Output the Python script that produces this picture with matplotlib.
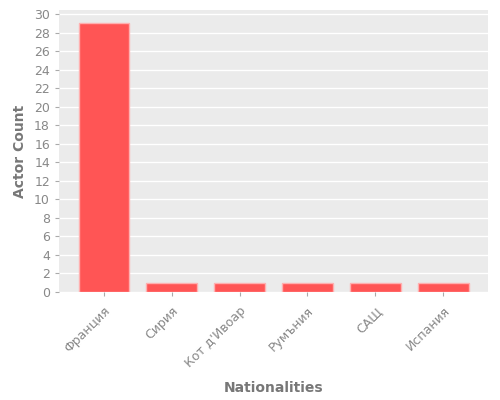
import matplotlib
matplotlib.use("Agg")
import matplotlib.pyplot as plt

categories = ["Франция", "Сирия", "Кот д'Ивоар", "Румъния", "САЩ", "Испания"]
counts = [29, 1, 1, 1, 1, 1]

fig = plt.figure(figsize=(5, 4), dpi=100)
ax = fig.add_axes([0.118, 0.27, 0.858, 0.705])
ax.set_facecolor("#EBEBEB")
ax.bar(range(len(categories)), counts, width=0.75, color="#FF5555",
       edgecolor="#FFB0B0", linewidth=1, zorder=3)
ax.set_ylim(0, 30.45)
ax.set_yticks(range(0, 31, 2))
ax.set_xticks(range(len(categories)))
ax.set_xticklabels(categories, rotation=45, ha="right", rotation_mode="anchor")
ax.yaxis.grid(True, color="white", linewidth=1, zorder=0)
ax.xaxis.grid(False)
for s in ax.spines.values():
    s.set_visible(False)
ax.tick_params(colors="#AAAAAA", labelsize=9, length=3)
ax.tick_params(axis="x", labelcolor="#888888", pad=6)
ax.tick_params(axis="y", labelcolor="#888888")
ax.set_xlabel("Nationalities", fontsize=10, fontweight="bold", color="#777777", labelpad=8)
ax.set_ylabel("Actor Count", fontsize=10, fontweight="bold", color="#777777", labelpad=5)
fig.savefig("out.png", dpi=100)
